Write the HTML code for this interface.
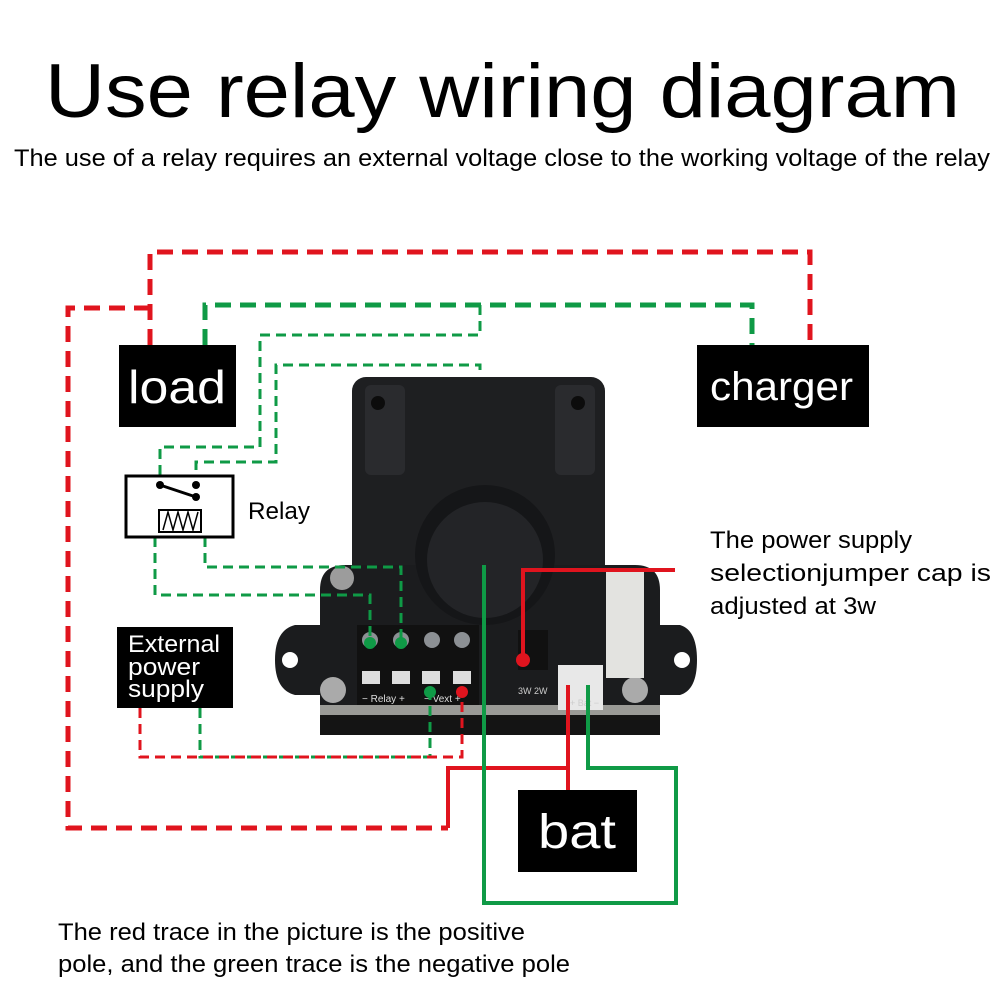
<!DOCTYPE html>
<html><head><meta charset="utf-8"><style>
html,body{margin:0;padding:0;background:#fff;}
svg{display:block;font-family:"Liberation Sans",sans-serif;}
</style></head><body>
<svg width="1000" height="1000" viewBox="0 0 1000 1000" xmlns="http://www.w3.org/2000/svg">
<rect width="1000" height="1000" fill="#fff"/>
<text x="45" y="117" font-size="76" textLength="915" lengthAdjust="spacingAndGlyphs" fill="#000">Use relay wiring diagram</text>
<text x="14" y="166" font-size="24" textLength="976" lengthAdjust="spacingAndGlyphs" fill="#000">The use of a relay requires an external voltage close to the working voltage of the relay</text>

<!-- sensor body -->
<rect x="352" y="377" width="253" height="220" rx="14" fill="#1e1f21"/>
<rect x="365" y="385" width="40" height="90" rx="6" fill="#2a2b2e"/>
<rect x="555" y="385" width="40" height="90" rx="6" fill="#2a2b2e"/>
<circle cx="378" cy="403" r="7" fill="#0c0c0c"/>
<circle cx="578" cy="403" r="7" fill="#0c0c0c"/>
<!-- board -->
<path d="M320 590 Q320 565 345 565 L635 565 Q660 565 660 590 L660 625 L680 625 Q697 630 697 660 Q697 690 680 695 L660 695 L660 735 L320 735 L320 695 L295 695 Q275 690 275 660 Q275 630 295 625 L320 625 Z" fill="#1b1c1e"/>
<rect x="320" y="705" width="340" height="10" fill="#9a9a96"/>
<rect x="320" y="715" width="340" height="20" fill="#141414"/>
<circle cx="290" cy="660" r="8" fill="#fff"/>
<circle cx="682" cy="660" r="8" fill="#fff"/>
<circle cx="485" cy="555" r="70" fill="#151618"/>
<circle cx="485" cy="560" r="58" fill="#232427"/>
<circle cx="342" cy="578" r="12" fill="#9c9c9c"/>
<circle cx="333" cy="690" r="13" fill="#aaa"/>
<circle cx="635" cy="690" r="13" fill="#aaa"/>
<!-- terminal block -->
<rect x="357" y="625" width="122" height="80" fill="#111"/>
<g fill="#8c9094"><circle cx="370" cy="640" r="8"/><circle cx="401" cy="640" r="8"/><circle cx="432" cy="640" r="8"/><circle cx="462" cy="640" r="8"/></g>
<g fill="#ddd"><rect x="362" y="671" width="18" height="13"/><rect x="392" y="671" width="18" height="13"/><rect x="422" y="671" width="18" height="13"/><rect x="453" y="671" width="18" height="13"/></g>
<text x="362" y="702" font-size="10" fill="#ddd">− Relay +</text>
<text x="424" y="702" font-size="10" fill="#ddd">− Vext +</text>
<rect x="558" y="665" width="45" height="45" fill="#e8e8e8"/>
<rect x="606" y="568" width="38" height="110" fill="#e3e3e0"/>
<rect x="518" y="630" width="30" height="40" fill="#111"/>
<text x="518" y="694" font-size="9" fill="#ccc">3W 2W</text>
<text x="570" y="706" font-size="9" fill="#ccc">+ Bat −</text>

<!-- thick red dashed -->
<g fill="none" stroke="#e0141e" stroke-width="5" stroke-dasharray="16,9">
<path d="M150 345 L150 252 L810 252 L810 345"/>
<path d="M150 308 L68 308 L68 828 L448 828"/>
</g>
<!-- thick green dashed -->
<path d="M205 345 L205 305 L752 305 L752 345" fill="none" stroke="#0f9a46" stroke-width="5" stroke-dasharray="16,9"/>
<!-- thin green dashed -->
<g fill="none" stroke="#0f9a46" stroke-width="3" stroke-dasharray="10,6">
<path d="M480 305 L480 335 L260 335 L260 447 L160 447 L160 480"/>
<path d="M480 370 L480 365 L276 365 L276 462 L196 462 L196 480"/>
<path d="M155 537 L155 595 L370 595 L370 640"/>
<path d="M205 537 L205 567 L401 567 L401 640"/>
<path d="M200 708 L200 757 L430 757 L430 692"/>
</g>
<path d="M140 708 L140 757 L462 757 L462 692" fill="none" stroke="#e0141e" stroke-width="3" stroke-dasharray="10,6"/>
<!-- solid -->
<path d="M448 828 L448 768 L568 768 L568 685 M568 768 L568 790" fill="none" stroke="#e0141e" stroke-width="4"/>
<path d="M523 660 L523 570 L675 570" fill="none" stroke="#e0141e" stroke-width="4"/>
<path d="M484 565 L484 903 L676 903 L676 768 L588 768 L588 685" fill="none" stroke="#0f9a46" stroke-width="4"/>
<g fill="#0f9a46"><circle cx="370" cy="643" r="6"/><circle cx="401" cy="643" r="6"/><circle cx="430" cy="692" r="6"/></g>
<g fill="#e0141e"><circle cx="462" cy="692" r="6"/><circle cx="523" cy="660" r="7"/></g>

<!-- boxes -->
<rect x="119" y="345" width="117" height="82" fill="#000"/>
<text x="128" y="403" font-size="46" fill="#fff" textLength="98" lengthAdjust="spacingAndGlyphs">load</text>
<rect x="697" y="345" width="172" height="82" fill="#000"/>
<text x="710" y="400" font-size="40" fill="#fff" textLength="143" lengthAdjust="spacingAndGlyphs">charger</text>
<rect x="518" y="790" width="119" height="82" fill="#000"/>
<text x="538" y="848" font-size="48" fill="#fff" textLength="78" lengthAdjust="spacingAndGlyphs">bat</text>
<rect x="117" y="627" width="116" height="81" fill="#000"/>
<g font-size="24" fill="#fff"><text x="128" y="652" textLength="92" lengthAdjust="spacingAndGlyphs">External</text><text x="128" y="675" textLength="72" lengthAdjust="spacingAndGlyphs">power</text><text x="128" y="697" textLength="76" lengthAdjust="spacingAndGlyphs">supply</text></g>

<!-- relay -->
<rect x="126" y="476" width="107" height="61" fill="#fff" stroke="#000" stroke-width="3"/>
<circle cx="160" cy="485" r="4" fill="#000"/><circle cx="196" cy="485" r="4" fill="#000"/><circle cx="196" cy="497" r="4" fill="#000"/>
<line x1="160" y1="485" x2="196" y2="497" stroke="#000" stroke-width="3"/>
<rect x="159" y="510" width="42" height="22" fill="none" stroke="#000" stroke-width="2"/>
<path d="M163 530 L168 512 L173 530 L178 512 L183 530 L188 512 L193 530 L198 512" fill="none" stroke="#000" stroke-width="1.5"/>
<text x="248" y="519" font-size="24" fill="#000" textLength="62" lengthAdjust="spacingAndGlyphs">Relay</text>

<g font-size="24" fill="#000">
<text x="710" y="548" textLength="202" lengthAdjust="spacingAndGlyphs">The power supply</text>
<text x="710" y="581" textLength="281" lengthAdjust="spacingAndGlyphs">selectionjumper cap is</text>
<text x="710" y="614" textLength="166" lengthAdjust="spacingAndGlyphs">adjusted at 3w</text>
<text x="58" y="940" textLength="467" lengthAdjust="spacingAndGlyphs">The red trace in the picture is the positive</text>
<text x="58" y="972" textLength="512" lengthAdjust="spacingAndGlyphs">pole, and the green trace is the negative pole</text>
</g>
</svg>
</body></html>
